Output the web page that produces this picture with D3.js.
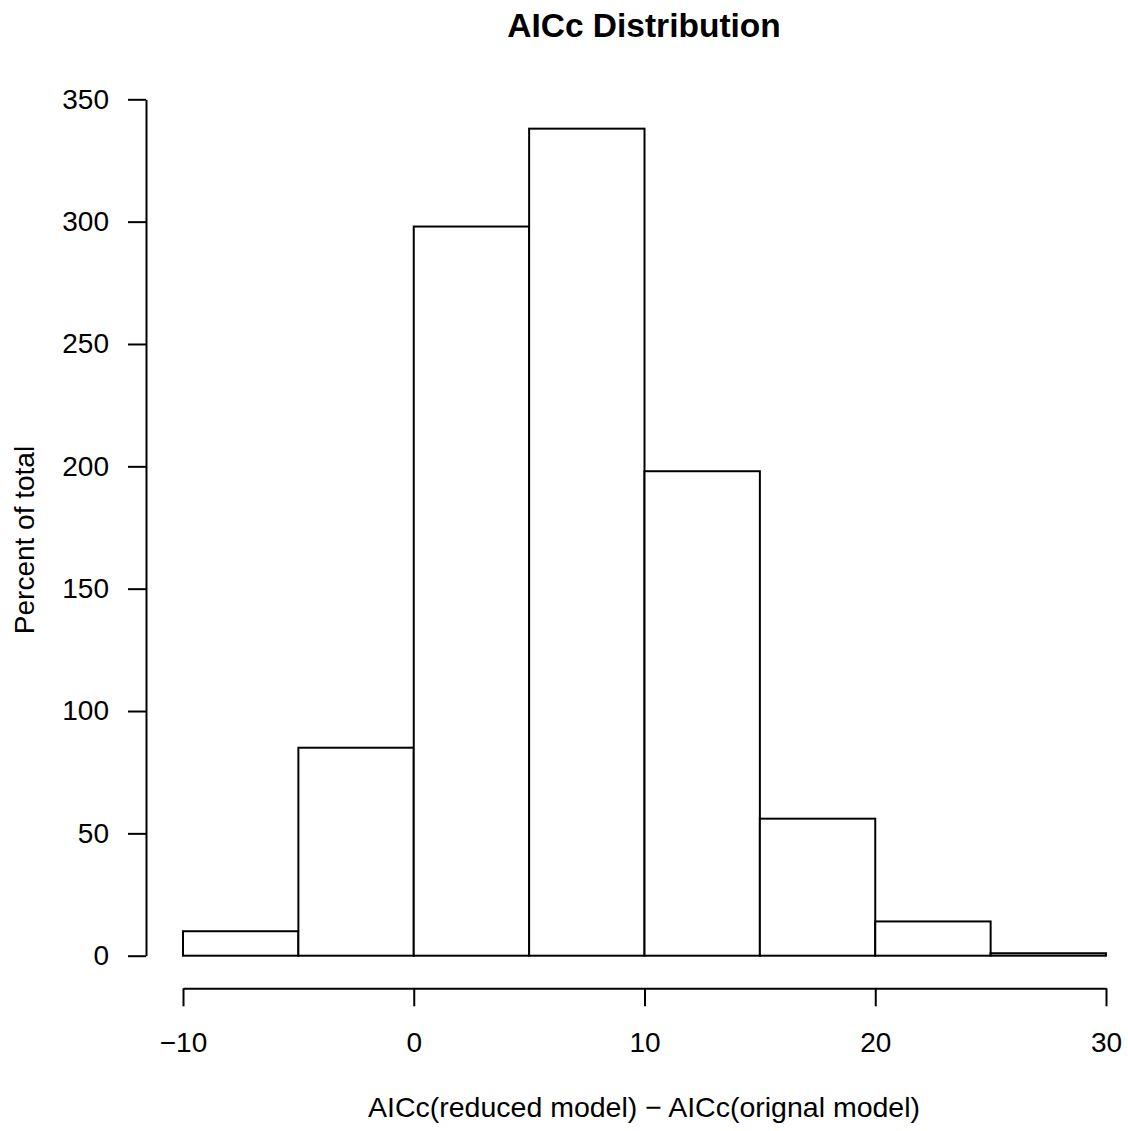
<!DOCTYPE html>
<html>
<head>
<meta charset="utf-8">
<script src="https://cdn.jsdelivr.net/npm/d3@7"></script>
<style>
  html, body { margin: 0; padding: 0; background: #fff; }
  svg { display: block; }
  text { font-family: "Liberation Sans", Arial, Helvetica, sans-serif; fill: #000; }
</style>
</head>
<body>
<svg id="chart" width="1128" height="1131"></svg>
<script>
// Data
const binStarts = [-10, -5, 0, 5, 10, 15, 20, 25];
const binWidth = 5;
const counts = [10, 85, 298, 338, 198, 56, 14, 1];
const xTicks = [-10, 0, 10, 20, 30];
const yTicks = [0, 50, 100, 150, 200, 250, 300, 350];
const titleText = "AICc Distribution";
const xLabel = "AICc(reduced model) \u2212 AICc(orignal model)";
const yLabel = "Percent of total";

const svg = d3.select("#chart");
const x = d3.scaleLinear().domain([-10, 30]).range([183, 1106]);
const y = d3.scaleLinear().domain([0, 350]).range([955.7, 99.3]);

// Bars
svg.append("g").selectAll("rect")
  .data(binStarts.map((s, i) => ({ s, c: counts[i] })))
  .join("rect")
  .attr("x", d => x(d.s))
  .attr("y", d => y(d.c))
  .attr("width", d => x(d.s + binWidth) - x(d.s))
  .attr("height", d => y(0) - y(d.c))
  .attr("fill", "#fff")
  .attr("stroke", "#000")
  .attr("stroke-width", 2);

// Y axis
const yAxis = d3.axisLeft(y).tickValues(yTicks).tickSize(18).tickSizeOuter(0).tickPadding(19)
  .tickFormat(d3.format("d"));
const gy = svg.append("g").attr("transform", "translate(146,0)").call(yAxis);
gy.select(".domain").attr("stroke", "#000").attr("stroke-width", 2);
gy.selectAll(".tick line").attr("stroke", "#000").attr("stroke-width", 2);
gy.selectAll(".tick text").attr("font-size", 28).attr("fill", "#000")
  .style("font-family", "'Liberation Sans', Arial, sans-serif");

// X axis
const xAxis = d3.axisBottom(x).tickValues(xTicks).tickSize(18).tickSizeOuter(0).tickPadding(26)
  .tickFormat(d => d < 0 ? "\u2212" + Math.abs(d) : String(d));
const gx = svg.append("g").attr("transform", "translate(0,988.3)").call(xAxis);
gx.select(".domain").attr("stroke", "#000").attr("stroke-width", 2);
gx.selectAll(".tick line").attr("stroke", "#000").attr("stroke-width", 2);
gx.selectAll(".tick text").attr("font-size", 28).attr("fill", "#000")
  .style("font-family", "'Liberation Sans', Arial, sans-serif");

// Title
svg.append("text")
  .attr("x", 644).attr("y", 37)
  .attr("text-anchor", "middle")
  .attr("font-size", 33.5).attr("font-weight", "bold")
  .text(titleText);

// X label
svg.append("text")
  .attr("x", 644).attr("y", 1117)
  .attr("text-anchor", "middle")
  .attr("font-size", 28.5)
  .text(xLabel);

// Y label
svg.append("text")
  .attr("transform", "translate(34,540) rotate(-90)")
  .attr("text-anchor", "middle")
  .attr("font-size", 28)
  .text(yLabel);
</script>
</body>
</html>
